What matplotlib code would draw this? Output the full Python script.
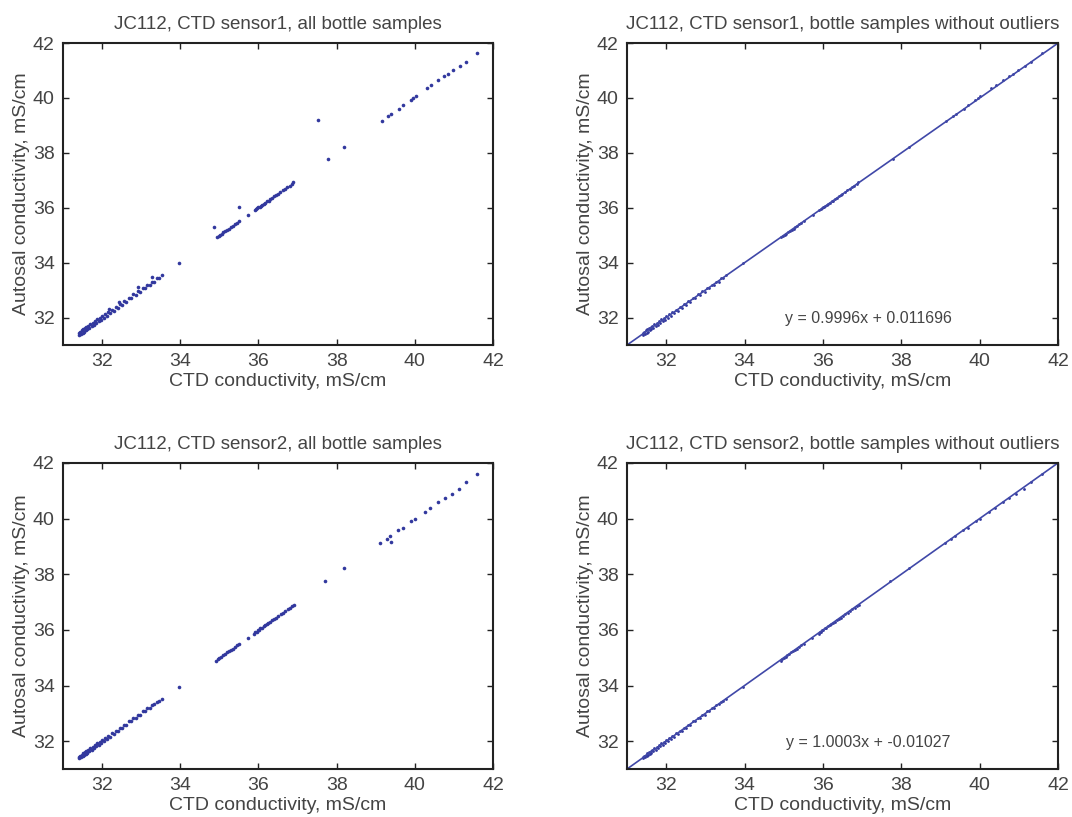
import matplotlib
matplotlib.use('Agg')
from matplotlib import pyplot as plt
import numpy as np

plt.rcParams['font.family'] = ['Liberation Sans', 'DejaVu Sans']

# sensor1, samples kept for the fit
s1_x = [31.40, 31.42, 31.44, 31.46, 31.48, 31.50, 31.52, 31.54, 31.56, 31.58,
        31.60, 31.62, 31.64, 31.67, 31.70, 31.73, 31.76, 31.79, 31.82, 31.85,
        31.88, 31.91, 31.94, 31.97, 32.00, 32.04, 32.08, 32.12, 32.16, 32.20,
        32.25, 32.30, 32.35, 32.40, 32.45, 32.50, 32.56, 32.62, 32.68, 32.74,
        32.80, 32.86, 32.92, 32.98, 33.04, 33.10, 33.16, 33.22, 33.28, 33.34,
        33.40, 33.46, 33.52, 33.97,
        34.94, 34.98, 35.02, 35.06, 35.10, 35.15, 35.20, 35.25, 35.30, 35.35,
        35.40, 35.45, 35.51, 35.74,
        35.91, 35.94, 35.97, 36.00, 36.03, 36.06, 36.10, 36.14, 36.18, 36.22,
        36.26, 36.30, 36.35, 36.40, 36.45, 36.50, 36.56, 36.62, 36.68, 36.74,
        36.80, 36.86, 36.89, 37.79, 38.19,
        39.15, 39.32, 39.40, 39.60, 39.70, 39.89, 39.96, 40.02, 40.30, 40.42,
        40.59, 40.74, 40.85, 40.98, 41.15, 41.32, 41.60]
s1_y = [31.45, 31.37, 31.49, 31.41, 31.53, 31.45, 31.57, 31.49, 31.61, 31.53,
        31.65, 31.57, 31.69, 31.62, 31.75, 31.68, 31.81, 31.74, 31.87, 31.80,
        31.93, 31.86, 31.99, 31.92, 32.05, 31.99, 32.13, 32.07, 32.21, 32.15,
        32.29, 32.25, 32.39, 32.35, 32.49, 32.46, 32.60, 32.58, 32.72, 32.70,
        32.84, 32.82, 32.96, 32.94, 33.08, 33.06, 33.20, 33.18, 33.31, 33.31,
        33.43, 33.43, 33.55, 33.98,
        34.92, 34.97, 35.02, 35.05, 35.11, 35.14, 35.20, 35.24, 35.31, 35.34,
        35.41, 35.44, 35.53, 35.74,
        35.92, 35.96, 35.98, 36.02, 36.02, 36.08, 36.10, 36.15, 36.18, 36.23,
        36.26, 36.31, 36.35, 36.41, 36.45, 36.51, 36.56, 36.63, 36.68, 36.75,
        36.80, 36.87, 36.92, 37.76, 38.22,
        39.17, 39.33, 39.43, 39.61, 39.75, 39.93, 40.00, 40.08, 40.36, 40.48,
        40.66, 40.78, 40.87, 41.00, 41.17, 41.32, 41.63]
# sensor1 outliers
s1_out_x = [37.53, 34.85, 35.49, 33.28, 32.93, 32.42, 32.17]
s1_out_y = [39.21, 35.29, 36.01, 33.47, 33.11, 32.57, 32.30]

# sensor2, samples kept for the fit
s2_x = [31.40, 31.42, 31.44, 31.46, 31.48, 31.50, 31.52, 31.54, 31.56, 31.58,
        31.60, 31.62, 31.64, 31.67, 31.70, 31.73, 31.76, 31.79, 31.82, 31.85,
        31.88, 31.91, 31.94, 31.97, 32.00, 32.04, 32.08, 32.12, 32.16, 32.20,
        32.25, 32.30, 32.35, 32.40, 32.45, 32.50, 32.56, 32.62, 32.68, 32.74,
        32.80, 32.86, 32.92, 32.98, 33.04, 33.10, 33.16, 33.22, 33.28, 33.34,
        33.40, 33.46, 33.52, 33.97,
        34.92, 34.96, 35.00, 35.05, 35.09, 35.14, 35.19, 35.24, 35.29, 35.34,
        35.39, 35.45, 35.51, 35.73,
        35.89, 35.92, 35.95, 35.98, 36.01, 36.05, 36.09, 36.13, 36.17, 36.21,
        36.25, 36.30, 36.35, 36.40, 36.45, 36.51, 36.57, 36.63, 36.69, 36.75,
        36.81, 36.87, 36.91, 37.70, 38.20,
        39.11, 39.28, 39.36, 39.57, 39.70, 39.91, 40.00, 40.25, 40.38, 40.59,
        40.76, 40.94, 41.13, 41.32, 41.60]
s2_y = [31.44, 31.38, 31.48, 31.42, 31.52, 31.46, 31.56, 31.50, 31.60, 31.54,
        31.64, 31.58, 31.68, 31.63, 31.74, 31.69, 31.80, 31.75, 31.86, 31.81,
        31.92, 31.87, 31.98, 31.93, 32.04, 32.00, 32.12, 32.08, 32.20, 32.16,
        32.28, 32.26, 32.38, 32.36, 32.48, 32.47, 32.59, 32.59, 32.71, 32.71,
        32.83, 32.83, 32.95, 32.95, 33.07, 33.07, 33.19, 33.19, 33.30, 33.32,
        33.42, 33.44, 33.53, 33.95,
        34.90, 34.95, 34.99, 35.04, 35.09, 35.13, 35.19, 35.23, 35.29, 35.33,
        35.39, 35.44, 35.50, 35.71,
        35.87, 35.93, 35.94, 35.99, 36.00, 36.06, 36.08, 36.14, 36.16, 36.22,
        36.24, 36.30, 36.34, 36.40, 36.44, 36.50, 36.56, 36.62, 36.68, 36.74,
        36.80, 36.86, 36.89, 37.76, 38.22,
        39.11, 39.27, 39.38, 39.58, 39.68, 39.92, 40.00, 40.24, 40.40, 40.60,
        40.74, 40.90, 41.08, 41.30, 41.60]
# sensor2 outliers
s2_out_x = [39.40]
s2_out_y = [39.15]

fit1 = (0.9996, 0.011696)
fit2 = (1.0003, -0.01027)

ticks = [32, 34, 36, 38, 40, 42]
dot_color = '#32389e'
line_color = '#4048a8'
text_color = '#444444'


def style_axes(ax, title):
    ax.set_xlim(31, 42)
    ax.set_ylim(31, 42)
    ax.set_xticks(ticks)
    ax.set_yticks(ticks)
    ax.tick_params(direction='in', top=True, right=True, length=4, width=1,
                   labelsize=14, colors='#222222', labelcolor=text_color, pad=6)
    for sp in ax.spines.values():
        sp.set_linewidth(1.5)
        sp.set_color('#222222')
    ax.set_title(title, fontsize=13.5, color=text_color, pad=10)
    ax.set_xlabel('CTD conductivity, mS/cm', fontsize=14, color=text_color, labelpad=2)
    ax.set_ylabel('Autosal conductivity, mS/cm', fontsize=14, color=text_color, labelpad=2)


fig = plt.figure(figsize=(10.72, 8.17), dpi=100)
W, H = 1072, 817
axes_px = [(63, 345, 430, 302), (627, 345, 431, 302),
           (63, 769, 430, 306), (627, 769, 431, 306)]
axs = [fig.add_axes([l / W, (H - b) / H, w / W, h / H]) for l, b, w, h in axes_px]

panels = [
    (s1_x, s1_y, s1_out_x, s1_out_y, fit1, 'sensor1'),
    (s2_x, s2_y, s2_out_x, s2_out_y, fit2, 'sensor2'),
]

for row, (x, y, ox, oy, fit, name) in enumerate(panels):
    ax_all = axs[2 * row]
    ax_fit = axs[2 * row + 1]

    ax_all.plot(x + ox, y + oy, 'o', color=dot_color, markersize=2.6, markeredgewidth=0)
    style_axes(ax_all, f'JC112, CTD {name}, all bottle samples')

    ax_fit.plot(x, y, 'o', color=dot_color, markersize=2.0, markeredgewidth=0)
    t = np.array([31, 42])
    ax_fit.plot(t, fit[0] * t + fit[1], color=line_color, linewidth=1.2)
    ax_fit.text(37.15, 31.95, f'y = {fit[0]:.4f}x + {fit[1]:.6g}', fontsize=11.5,
                color=text_color, ha='center', va='center')
    style_axes(ax_fit, f'JC112, CTD {name}, bottle samples without outliers')

plt.savefig('out.png', dpi=100)
